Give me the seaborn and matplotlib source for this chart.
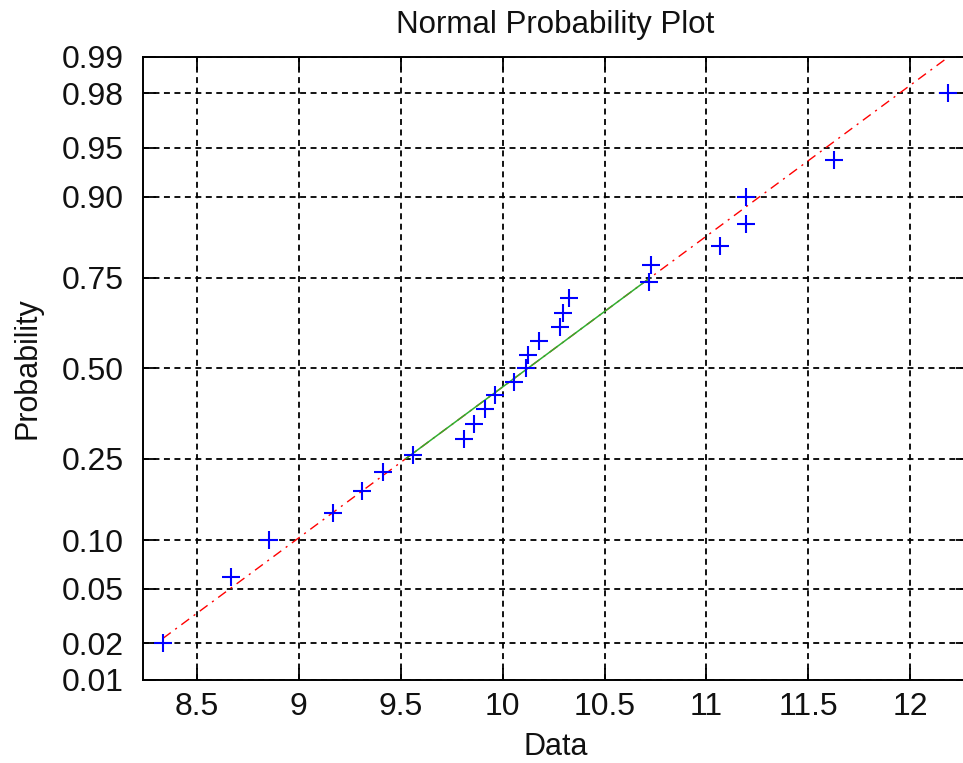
from statistics import NormalDist
import matplotlib
matplotlib.use("Agg")
import matplotlib.pyplot as plt
import numpy as np
import pandas as pd
import seaborn as sns

# sample values, sorted
data = [8.333, 8.665, 8.854, 9.169, 9.308, 9.414, 9.561, 9.808, 9.857,
        9.914, 9.963, 10.057, 10.116, 10.124, 10.177, 10.283, 10.295,
        10.324, 10.720, 10.729, 11.064, 11.192, 11.192, 11.627, 12.187]
prob_ticks = [0.01, 0.02, 0.05, 0.10, 0.25, 0.50, 0.75, 0.90, 0.95, 0.98, 0.99]
prob_labels = ['0.01', '0.02', '0.05', '0.10', '0.25', '0.50', '0.75', '0.90',
               '0.95', '0.98', '0.99']
x_ticks = [8.5, 9, 9.5, 10, 10.5, 11, 11.5, 12]
x_labels = ['8.5', '9', '9.5', '10', '10.5', '11', '11.5', '12']

nd = NormalDist()
_ppf = np.vectorize(lambda p: nd.inv_cdf(min(max(p, 1e-9), 1 - 1e-9)),
                    otypes=[float])
_cdf = np.vectorize(nd.cdf, otypes=[float])


def probit(p):
    return _ppf(np.asarray(p, dtype=float))


def inv_probit(z):
    return _cdf(np.asarray(z, dtype=float))


# plotting positions (i-0.5)/n, like matlab normplot
n = len(data)
df = pd.DataFrame({'x': data, 'p': (np.arange(1, n + 1) - 0.5) / n})

# reference line through the quartiles
q1, q3 = np.percentile(data, [25, 75], method='hazen')
slope = (nd.inv_cdf(0.75) - nd.inv_cdf(0.25)) / (q3 - q1)
x_ext = np.array([min(data), max(data)])
ext_df = pd.DataFrame({'x': x_ext,
                       'p': inv_probit(nd.inv_cdf(0.25) + slope * (x_ext - q1))})
mid_df = pd.DataFrame({'x': [q1, q3], 'p': [0.25, 0.75]})

sns.set_theme(style='white')
plt.rcParams['font.family'] = ['Liberation Sans', 'DejaVu Sans']

fig = plt.figure(figsize=(9.63, 7.63), dpi=100)
ax = fig.add_axes([0.1488, 0.1088, 0.8564, 0.8169])
ax.set_yscale('function', functions=(probit, inv_probit))

grid_style = dict(color='black', lw=1.3, linestyle=(0, (3.3, 2.5)), zorder=0)
for p in prob_ticks:
    ax.axhline(p, **grid_style)
for xv in x_ticks:
    ax.axvline(xv, **grid_style)

sns.lineplot(data=ext_df, x='x', y='p', color='red', lw=1.0,
             linestyle=(0, (7, 4, 1.5, 4)), ax=ax, zorder=2)
sns.lineplot(data=mid_df, x='x', y='p', color='#30b030', lw=1.1,
             ax=ax, zorder=3)
sns.scatterplot(data=df, x='x', y='p', marker='+', s=180, color='blue',
                linewidth=1.5, ax=ax, zorder=4)

rng = max(data) - min(data)
ax.set_xlim(min(data) - 0.025 * rng, max(data) + 0.025 * rng)
ax.set_ylim(0.01, 0.99)
ax.set_xticks(x_ticks)
ax.set_xticklabels(x_labels)
ax.set_yticks(prob_ticks)
ax.set_yticklabels(prob_labels)
ax.minorticks_off()

ax.tick_params(direction='in', length=9, width=1.3, color='black',
               labelsize=23, labelcolor='#111111', top=True, right=True,
               bottom=True, left=True)
ax.tick_params(axis='x', pad=9)
ax.tick_params(axis='y', pad=14)
for sp in ax.spines.values():
    sp.set_color('black')
    sp.set_linewidth(1.4)

ax.set_title('Normal Probability Plot', fontsize=22.5, color='#111111', pad=17)
ax.set_xlabel('Data', fontsize=22, color='#111111', labelpad=7)
ax.set_ylabel('Probability', fontsize=22, color='#111111', labelpad=14)

fig.savefig('out.png', dpi=100)
